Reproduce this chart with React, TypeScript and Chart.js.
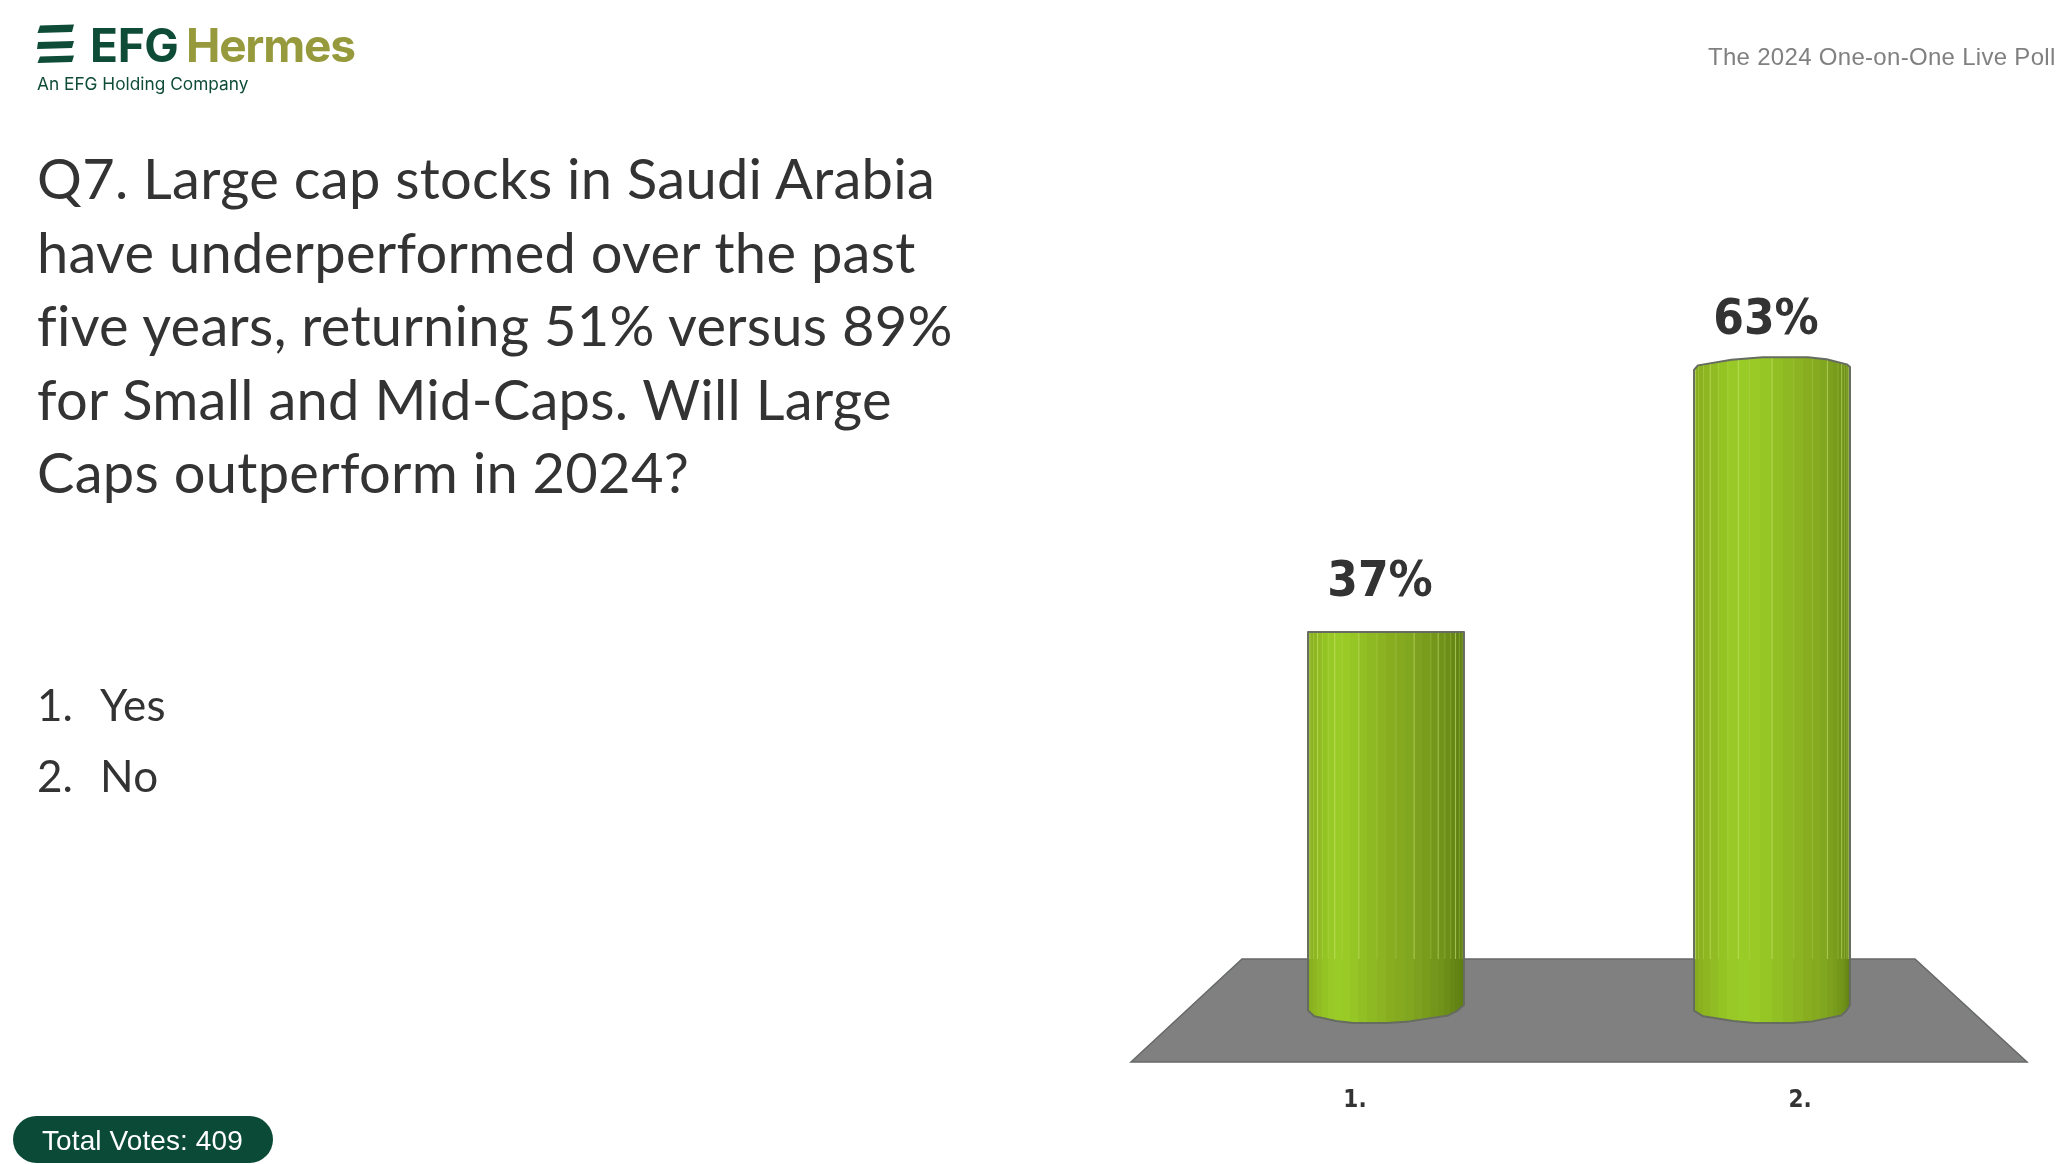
import React, { useEffect, useRef } from "react";
import { Chart, registerables } from "chart.js";

Chart.register(...registerables);

const categories = ["Yes", "No"];
const tickLabels = ["1.", "2."];
const tickPositions = [1, 2];
const percentages = [37, 63];
const questionLines = [
  "Q7. Large cap stocks in Saudi Arabia",
  "have underperformed over the past",
  "five years, returning 51% versus 89%",
  "for Small and Mid-Caps. Will Large",
  "Caps outperform in 2024?",
];
const totalVotes = 409;

const LABEL_FONT = "'DejaVu Sans Condensed', 'DejaVu Sans', sans-serif";
const shadeStops: [number, number[]][] = [
  [0, [134, 171, 31]], [0.08, [146, 190, 35]], [0.17, [154, 205, 39]], [0.27, [152, 201, 38]],
  [0.38, [144, 188, 35]], [0.5, [138, 176, 33]], [0.62, [131, 168, 31]], [0.74, [122, 158, 29]],
  [0.86, [112, 146, 25]], [0.95, [100, 133, 20]], [1, [92, 124, 16]],
];
const BAND_COUNT = 26;

// Horizontal shading helpers: shift the lit side of each cylinder, bands narrow toward its edges.
const warpOf = (index: number) => (index === 0 ? 0 : 0.2);
const warp = (p: number, s: number) => p + s * 4 * p * (1 - p);
const bandEdge = (k: number) => (1 - Math.cos((Math.PI * k) / BAND_COUNT)) / 2;

function shadeAt(p: number) {
  for (let i = 1; i < shadeStops.length; i++) {
    const [p1, c1] = shadeStops[i];
    const [p0, c0] = shadeStops[i - 1];
    if (p <= p1) {
      const t = (p - p0) / (p1 - p0);
      return c0.map((v, j) => Math.round(v + (c1[j] - v) * t));
    }
  }
  return shadeStops[shadeStops.length - 1][1];
}

function cylinderFill(ctx: CanvasRenderingContext2D, left: number, width: number, s: number) {
  const g = ctx.createLinearGradient(left, 0, left + width, 0);
  for (let k = 0; k < BAND_COUNT; k++) {
    const a = bandEdge(k);
    const b = bandEdge(k + 1);
    const c = shadeAt((a + b) / 2);
    const css = `rgb(${c[0]},${c[1]},${c[2]})`;
    g.addColorStop(warp(a, s), css);
    g.addColorStop(warp(b, s), css);
  }
  return g;
}

const topEdge: [number, number][] = [
  [0, 0], [0.025, 0.36], [0.24, 0.8], [0.44, 1], [0.73, 1], [0.85, 0.84], [0.98, 0.44], [1, 0.24],
];
const bottomEdge: [number, number][] = [
  [1, 0], [0.96, 0.31], [0.9, 0.58], [0.65, 0.91], [0.51, 1], [0.29, 1], [0.18, 0.89], [0.04, 0.63], [0, 0.31],
];

const cylinderPlugin = {
  id: "cylinder",
  beforeDatasetsDraw(chart: any) {
    const { ctx, scales, chartArea } = chart;
    const base = scales.y.getPixelForValue(0);
    const cx = (chartArea.left + chartArea.right) / 2;
    ctx.save();
    ctx.beginPath();
    ctx.moveTo(cx - 337, base - 46);
    ctx.lineTo(cx + 336, base - 46);
    ctx.lineTo(cx + 448, base + 57);
    ctx.lineTo(cx - 448, base + 57);
    ctx.closePath();
    ctx.fillStyle = "#808080";
    ctx.fill();
    ctx.strokeStyle = "#666a66";
    ctx.lineWidth = 1.5;
    ctx.stroke();
    ctx.restore();
  },
  afterDatasetsDraw(chart: any) {
    const { ctx } = chart;
    const bars = chart.getDatasetMeta(0).data;
    bars.forEach((bar: any, i: number) => {
      const left = bar.x - bar.width / 2;
      const s = warpOf(i);
      const rise = Math.max(0, (bar.base - bar.y - 380) * 0.05);
      const bulge = 18;
      const shape = () => {
        ctx.beginPath();
        topEdge.forEach(([f, r], k) => {
          const px = left + f * bar.width;
          const py = bar.y - r * rise;
          if (k === 0) ctx.moveTo(px, py);
          else ctx.lineTo(px, py);
        });
        bottomEdge.forEach(([f, r]) => {
          ctx.lineTo(left + warp(f, s * 0.6) * bar.width, bar.base + r * bulge);
        });
        ctx.closePath();
      };
      ctx.save();
      shape();
      ctx.fillStyle = cylinderFill(ctx, left, bar.width, s);
      ctx.fill();
      ctx.clip();
      const floorBack = bar.base - 46;
      for (let k = 1; k < BAND_COUNT; k++) {
        if (k % 2 === 1 && k > 8 && k < 18) continue;
        ctx.fillStyle = k % 3 === 1 ? "rgba(205,232,120,0.6)" : "rgba(190,220,100,0.35)";
        ctx.fillRect(left + warp(bandEdge(k), s) * bar.width, bar.y - rise - 2, 1, floorBack - bar.y + rise + 2);
      }
      ctx.restore();
      ctx.save();
      shape();
      ctx.strokeStyle = "#666c60";
      ctx.lineWidth = 2;
      ctx.lineJoin = "round";
      ctx.stroke();
      ctx.restore();

      ctx.save();
      ctx.fillStyle = "#333333";
      ctx.font = `bold 49px ${LABEL_FONT}`;
      ctx.textAlign = "center";
      ctx.textBaseline = "middle";
      ctx.fillText(`${percentages[i]}%`, bar.x - 6, bar.y - 49);
      ctx.restore();
    });
  },
};

function LogoMark() {
  return (
    <svg width="60" height="60" style={{ position: "absolute", left: 30, top: 15 }} viewBox="30 15 60 60">
      <polygon points="40,25.5 74,24.5 72,32 37.5,33" fill="#0f4c38" />
      <polygon points="38,42 74,41 72,48 37,49" fill="#0f4c38" />
      <polygon points="40,56.5 74,55.5 72,62 37.5,63" fill="#0f4c38" />
    </svg>
  );
}

const abs = (x: number, y: number): React.CSSProperties => ({ position: "absolute", left: x, top: y, whiteSpace: "pre" });

export default function App() {
  const canvasRef = useRef<HTMLCanvasElement | null>(null);

  useEffect(() => {
    if (!canvasRef.current) return;
    const chart = new Chart(canvasRef.current, {
      type: "bar",
      data: {
        labels: categories,
        datasets: [
          {
            data: percentages,
            xAxisID: "x",
            yAxisID: "y",
            backgroundColor: "#8ab021",
            borderWidth: 0,
            categoryPercentage: 0.404,
            barPercentage: 1,
          },
        ],
      },
      options: {
        responsive: false,
        animation: false,
        layout: { padding: { left: 1193, right: 95, top: 299.4, bottom: 0 } },
        plugins: { legend: { display: false }, tooltip: { enabled: false }, title: { display: false } },
        scales: {
          x: { type: "category", display: false },
          y: { type: "linear", display: false, min: 0, max: 70 },
          x2: {
            type: "linear",
            position: "bottom",
            offset: false,
            min: 0.636,
            max: 2.3708,
            border: { display: false },
            grid: { display: false, offset: false },
            afterBuildTicks: (axis: any) => {
              axis.ticks = tickPositions.map((value) => ({ value }));
            },
            afterFit: (axis: any) => {
              axis.height = 159;
            },
            ticks: {
              autoSkip: false,
              maxRotation: 0,
              padding: 73,
              color: "#333333",
              font: { family: LABEL_FONT, size: 24, weight: "bold" },
              callback: (v: any) => tickLabels[tickPositions.indexOf(Number(v))] ?? "",
            },
          },
        },
      } as any,
      plugins: [cylinderPlugin as any],
    });
    return () => chart.destroy();
  }, []);

  return (
    <div style={{ position: "absolute", left: 0, top: 0, width: 2060, height: 1164, overflow: "hidden", background: "#fff", fontFamily: "Lato, sans-serif" }}>
      <canvas ref={canvasRef} width={2060} height={1164} style={{ position: "absolute", left: 0, top: 0, width: 2060, height: 1164 }} />
      <LogoMark />
      <div style={{ ...abs(90, 15), fontFamily: "Inter, sans-serif", fontWeight: 700, fontSize: 46, lineHeight: "60px", color: "#0f4c38", letterSpacing: -0.3 }}>EFG</div>
      <div style={{ ...abs(186, 15), fontFamily: "Inter, sans-serif", fontWeight: 700, fontSize: 46, lineHeight: "60px", color: "#969a3c", letterSpacing: -1.2 }}>Hermes</div>
      <div style={{ ...abs(37, 72), fontFamily: "Inter, sans-serif", fontSize: 17.3, lineHeight: "24px", color: "#0f4c38" }}>An EFG Holding Company</div>
      <div style={{ ...abs(1708, 42), fontFamily: "'Liberation Sans', sans-serif", fontSize: 24, lineHeight: "30px", color: "#808080", letterSpacing: 0.3 }}>The 2024 One-on-One Live Poll</div>

      {questionLines.map((line, i) => (
        <div key={i} style={{ ...abs(37, 141 + i * 73.6), fontSize: 56, lineHeight: "73.6px", letterSpacing: 0.3, fontVariantLigatures: "none", color: "#333333" }}>{line}</div>
      ))}
      {categories.map((c, i) => (
        <React.Fragment key={c}>
          <div style={{ ...abs(37, 678.5 + i * 71), fontSize: 44, lineHeight: "50px", color: "#333333" }}>{`${i + 1}.`}</div>
          <div style={{ ...abs(100, 678.5 + i * 71), fontSize: 44, lineHeight: "50px", letterSpacing: 0.3, color: "#333333" }}>{c}</div>
        </React.Fragment>
      ))}
      <div style={{ position: "absolute", left: 13, top: 1116, width: 260, height: 47, borderRadius: 24, background: "#0a4a36" }} />
      <div style={{ ...abs(42, 1124), fontFamily: "'Liberation Sans', sans-serif", fontSize: 28, lineHeight: "34px", letterSpacing: 0.1, color: "#ffffff" }}>{`Total Votes: ${totalVotes}`}</div>
    </div>
  );
}
